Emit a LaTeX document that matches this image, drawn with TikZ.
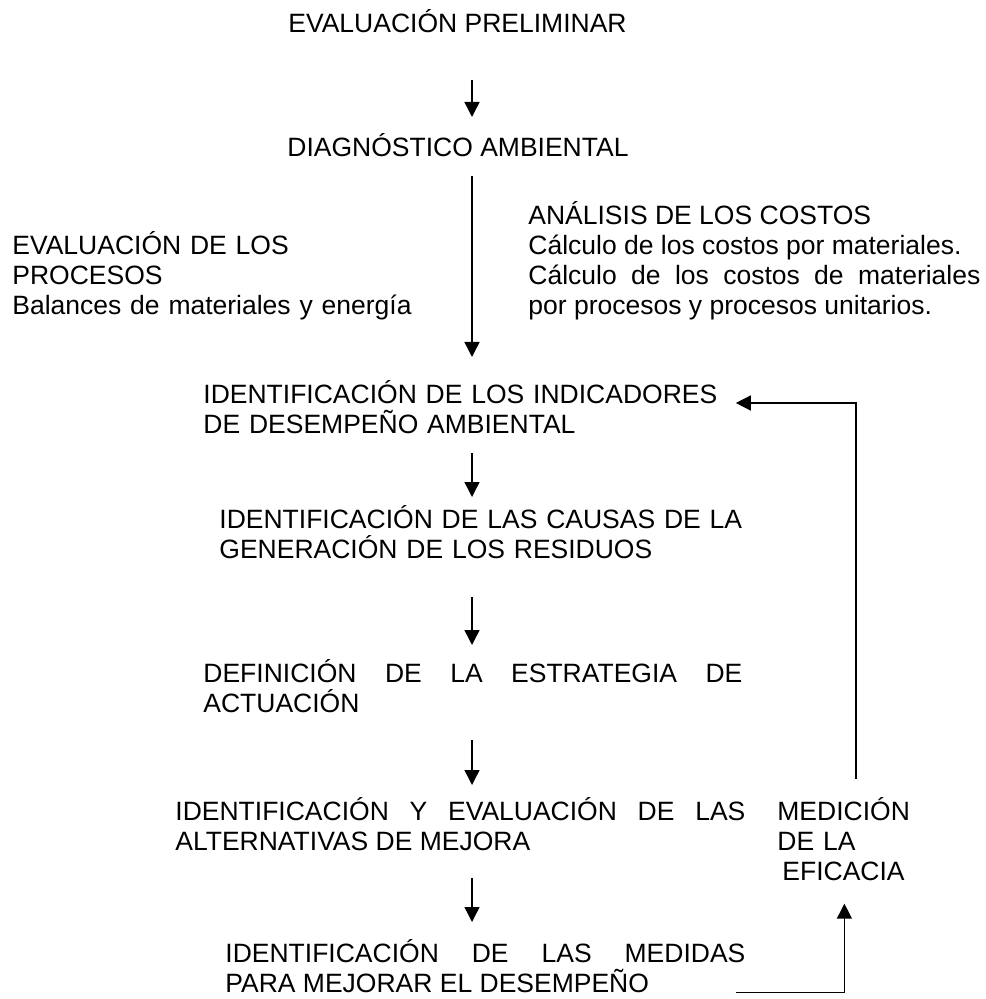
\documentclass[tikz,border=0pt]{standalone}
\usepackage{fontspec}
\setmainfont{Liberation Sans}
\usepackage{tikz}
\tikzset{
etapa/.style={anchor=base west, inner sep=0pt, font=\fontsize{13.25}{15}\selectfont},
nota/.style={etapa, align=left},
just/.style={etapa, align=justify},
flecha/.style={-{Triangle[width=7.5pt,length=7.5pt]}, line width=0.7pt},
}
\usetikzlibrary{arrows.meta, positioning, calc}
\tolerance=10000
\hbadness=10000

\begin{document}
\begin{tikzpicture}[x=0.5pt, y=-0.5pt]
			\useasboundingbox (0,0) rectangle (985,999);
			\coordinate (eje) at (472,0);
			\coordinate (fb) at (856,0);
			\node[etapa] (prel) at (288,33) {EVALUACIÓN PRELIMINAR};
			\node[etapa] (diag) at (287,157) {DIAGNÓSTICO AMBIENTAL};
			\node[nota, text width=210pt] (proc) at (12,255) {EVALUACIÓN DE LOS\\ PROCESOS\\ Balances de materiales y energía};
			\node[just, text width=226pt] (cost) at (528,225) {ANÁLISIS DE LOS COSTOS\\ Cálculo de los costos por materiales.\\ Cálculo de los costos de materiales\linebreak por procesos y procesos unitarios.};
			\node[nota, text width=266pt] (ind) at (203,403) {IDENTIFICACIÓN DE LOS INDICADORES\\ DE DESEMPEÑO AMBIENTAL};
			\node[nota, text width=262pt] (caus) at (219,528) {IDENTIFICACIÓN DE LAS CAUSAS DE LA\\ GENERACIÓN DE LOS RESIDUOS};
			\node[just, text width=269.5pt] (estr) at (203,682) {DEFINICIÓN DE LA ESTRATEGIA DE\linebreak ACTUACIÓN};
			\node[just, text width=285pt] (alt) at (175,820) {IDENTIFICACIÓN Y EVALUACIÓN DE LAS\linebreak ALTERNATIVAS DE MEJORA};
			\node[nota, text width=67pt] (efic) at (777,820) {MEDICIÓN\\ DE LA\\ \hspace*{2.5pt}EFICACIA};
			\node[just, text width=260pt] (med) at (225,962) {IDENTIFICACIÓN DE LAS MEDIDAS\linebreak PARA MEJORAR EL DESEMPEÑO};
			% ----
			\draw[flecha, shorten <=23.5pt, shorten >=20pt] (prel.base -| eje) -- (diag.base -| eje);
			\draw[flecha, shorten <=9.5pt, shorten >=23pt] (diag.base -| eje) -- (ind.base -| eje);
			\draw[flecha, shorten <=25pt, shorten >=15.5pt] (ind.base -| eje) -- (caus.base -| eje);
			\draw[flecha, shorten <=34.5pt, shorten >=18.5pt] (caus.base -| eje) -- (estr.base -| eje);
			\draw[flecha, shorten <=29pt, shorten >=17.5pt] (estr.base -| eje) -- (alt.base -| eje);
			\draw[flecha, shorten <=29pt, shorten >=20pt] (alt.base -| eje) -- (med.base -| eje);

			\draw[flecha, shorten <=9pt] (efic.north -| fb) |- (ind.base east);
			\draw[flecha, shorten <=-5pt, shorten >=11.5pt] (med.south east) -| (efic.south);
\end{tikzpicture}
\end{document}
